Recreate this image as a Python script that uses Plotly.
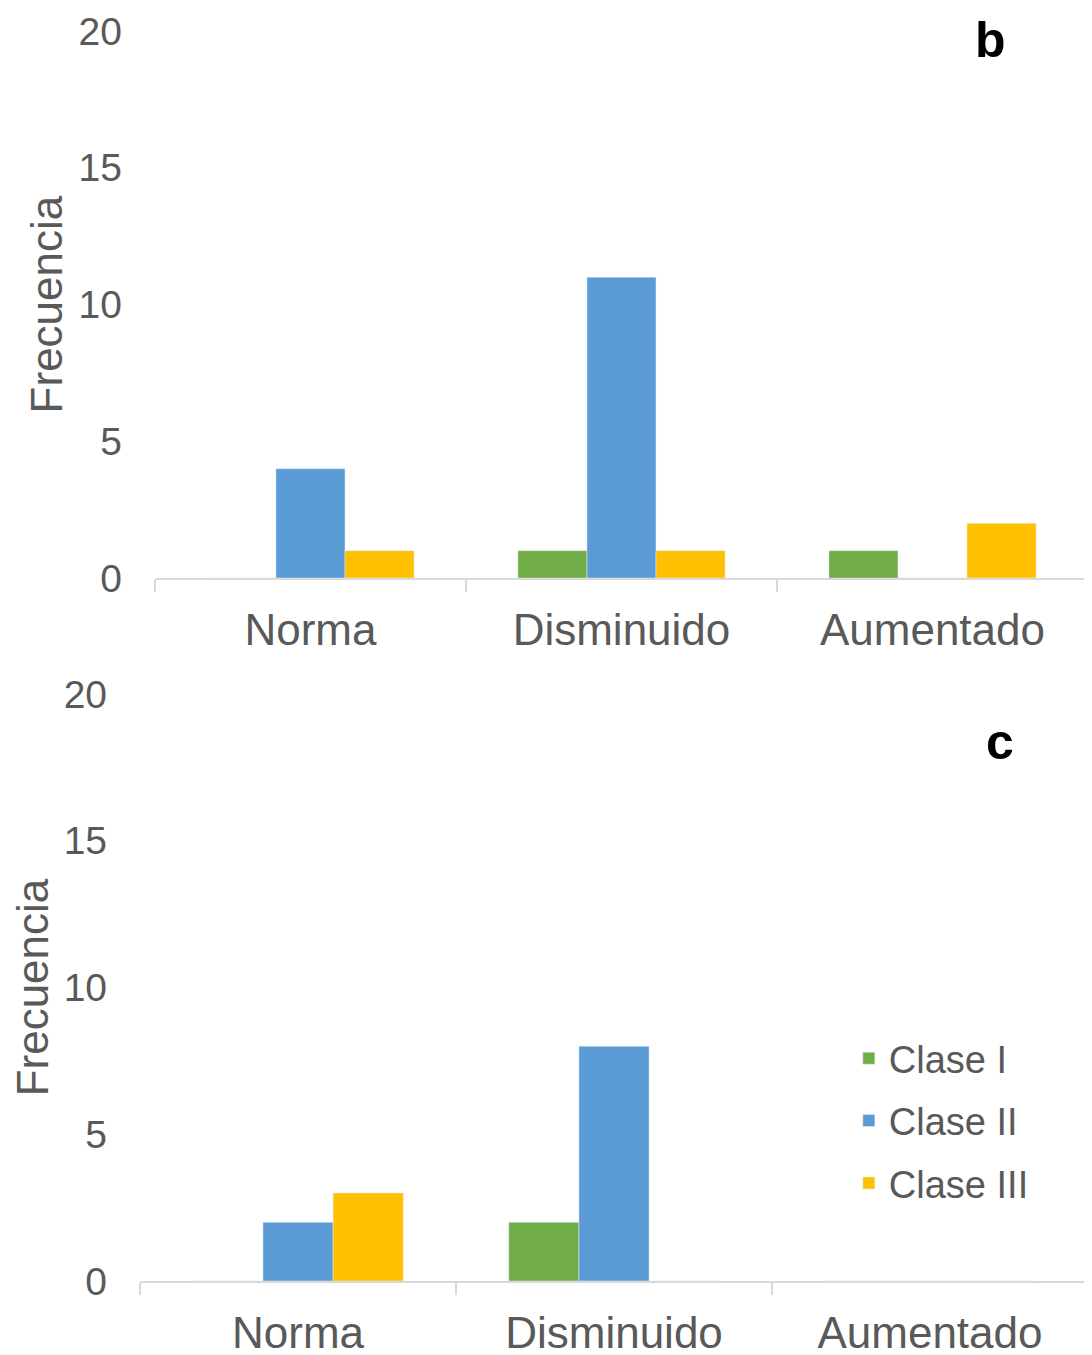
import plotly.graph_objects as go

categories = ["Norma", "Disminuido", "Aumentado"]
series_names = ["Clase I", "Clase II", "Clase III"]

# Panel b
b_clase_I = [0, 1, 1]
b_clase_II = [4, 11, 0]
b_clase_III = [1, 1, 2]

# Panel c
c_clase_I = [0, 2, 0]
c_clase_II = [2, 8, 0]
c_clase_III = [3, 0, 0]

y_ticks = [0, 5, 10, 15, 20]

colors = ["#70AD47", "#5B9BD5", "#FFC000"]
FONT = "Liberation Sans, Arial, sans-serif"
GRAY = "#595959"

fig = go.Figure()

panel_b = [b_clase_I, b_clase_II, b_clase_III]
panel_c = [c_clase_I, c_clase_II, c_clase_III]

for i, (name, vals) in enumerate(zip(series_names, panel_b)):
    fig.add_trace(go.Bar(x=categories, y=vals, name=name, marker_color=colors[i],
                         xaxis="x", yaxis="y", showlegend=False, legendgroup=name))
for i, (name, vals) in enumerate(zip(series_names, panel_c)):
    fig.add_trace(go.Bar(x=categories, y=vals, name=name, marker_color=colors[i],
                         xaxis="x2", yaxis="y2", showlegend=True, legendgroup=name))

xaxis_common = dict(
    type="category", showline=True, linecolor="#D9D9D9", linewidth=1.5,
    ticks="outside", tickson="boundaries", ticklen=12, tickcolor="#D9D9D9", tickwidth=1.5,
    tickfont=dict(family=FONT, size=44, color=GRAY), showgrid=False, zeroline=False,
    ticklabelstandoff=12, automargin=False, ticklabeloverflow="allow",
)
yaxis_common = dict(
    range=[0, 20], tickvals=y_ticks, showgrid=False, zeroline=False, showline=False,
    tickfont=dict(family=FONT, size=39, color=GRAY), ticks="",
    ticklabelstandoff=32, automargin=False, ticklabeloverflow="allow",
)

fig.update_layout(
    width=1092, height=1355,
    margin=dict(l=0, r=0, t=0, b=0, autoexpand=False),
    paper_bgcolor="white", plot_bgcolor="white",
    barmode="group", bargap=0.334, bargroupgap=0,
    xaxis=dict(domain=[0.1346, 0.9890], anchor="y", **xaxis_common),
    yaxis=dict(domain=[0.5793, 0.9830], anchor="x",
               title=dict(text="Frecuencia", font=dict(family=FONT, size=44, color=GRAY), standoff=2),
               **yaxis_common),
    xaxis2=dict(domain=[0.1209, 0.9890], anchor="y2", **xaxis_common),
    yaxis2=dict(domain=[0.0605, 0.4937], anchor="x2",
                title=dict(text="Frecuencia", font=dict(family=FONT, size=44, color=GRAY), standoff=5),
                **yaxis_common),
    legend=dict(x=0.77, y=0.248, xanchor="left", yanchor="top",
                font=dict(family=FONT, size=38, color=GRAY),
                tracegroupgap=10, bgcolor="rgba(0,0,0,0)", itemwidth=30),
    annotations=[
        dict(text="<b>b</b>", x=0.8993, y=0.9764, xref="paper", yref="paper",
             xanchor="center", yanchor="middle",
             showarrow=False, font=dict(family=FONT, size=50, color="black")),
        dict(text="<b>c</b>", x=0.9084, y=0.4583, xref="paper", yref="paper",
             xanchor="center", yanchor="middle",
             showarrow=False, font=dict(family=FONT, size=50, color="black")),
    ],
)

fig.write_html("out.html")
